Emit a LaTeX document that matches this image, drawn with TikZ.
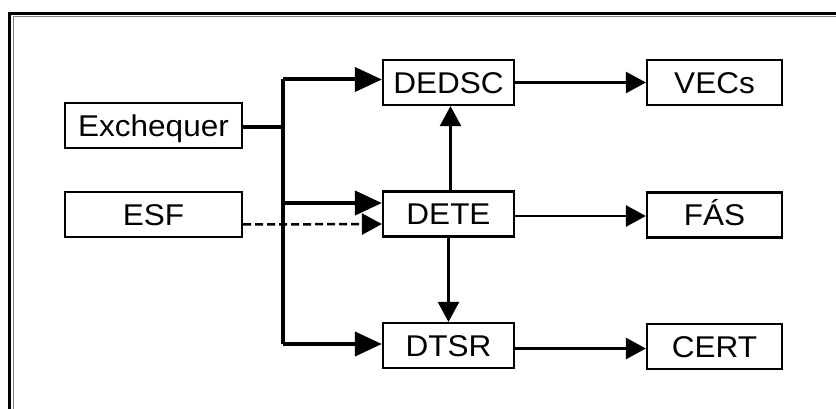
\documentclass[tikz,border=0pt]{standalone}
\usepackage{fontspec}
\setmainfont{Liberation Sans}[FakeStretch=1.05]
\usetikzlibrary{arrows.meta}
\begin{document}
\begin{tikzpicture}[x=1pt,y=-1pt,
  box/.style={draw,line width=2.2pt,inner sep=0pt,minimum height=45pt,
    text height=21.5pt,text depth=0pt,
    font=\fontsize{30}{32}\selectfont},
  lbox/.style={box,minimum width=177pt},
  mbox/.style={box,minimum width=131pt},
  rbox/.style={box,minimum width=135pt},
  trunk/.style={line width=4pt},
  bigarrow/.style={line width=4pt,-{Triangle[length=27pt,width=24pt]}},
  thinarrow/.style={line width=2.5pt,-{Triangle[length=20pt,width=21pt]}},
  dasharrow/.style={line width=2.5pt,dash pattern=on 8pt off 4pt,-{Triangle[length=20pt,width=21pt]}}]
\useasboundingbox (0,0) rectangle (836,409);
% frame
\draw[line width=3pt] (9.5,409) -- (9.5,13.5) -- (836,13.5);
\draw[line width=1pt,gray] (13,409) -- (13,16.5) -- (836,16.5);
% nodes
\node[lbox] (exch) at (153.5,125.5) {Exchequer};
\node[lbox] (esf) at (153.5,214.5) {ESF};
\node[mbox] (dedsc) at (448.5,82.5) {DEDSC};
\node[mbox] (dete) at (448.5,214) {DETE};
\node[mbox] (dtsr) at (448.5,345.5) {DTSR};
\node[rbox] (vecs) at (714.5,82.5) {VECs};
\node[rbox] (fas) at (714.5,215) {FÁS};
\node[rbox] (cert) at (714.5,346.5) {CERT};
% trunk
\coordinate (j) at (283,127);
\coordinate (jt) at (283,79.5);
\coordinate (jb) at (283,344);
\draw[trunk] (exch.east |- j) -- (j);
\draw[trunk] (jt) -- (jb);
\draw[bigarrow] (jt) -- (dedsc.west |- jt);
\draw[bigarrow] ([yshift=11pt]dete.west -| j) -- ([yshift=11pt]dete.west);
\draw[bigarrow] (jb) -- (dtsr.west |- jb);
\draw[dasharrow] ([yshift=-10pt]esf.east) -- ([yshift=-10pt]dete.west);
% vertical
\draw[thinarrow] ([xshift=2pt]dete.north) -- ([xshift=2pt]dedsc.south);
\draw[thinarrow] (dete.south) -- (dtsr.north);
% right
\draw[thinarrow] (dedsc.east) -- (vecs.west |- dedsc.east);
\draw[thinarrow] ([yshift=-2pt]dete.east) -- ([yshift=-2pt]dete.east -| fas.west);
\draw[thinarrow] ([yshift=-3pt]dtsr.east) -- ([yshift=-3pt]dtsr.east -| cert.west);
\end{tikzpicture}
\end{document}
